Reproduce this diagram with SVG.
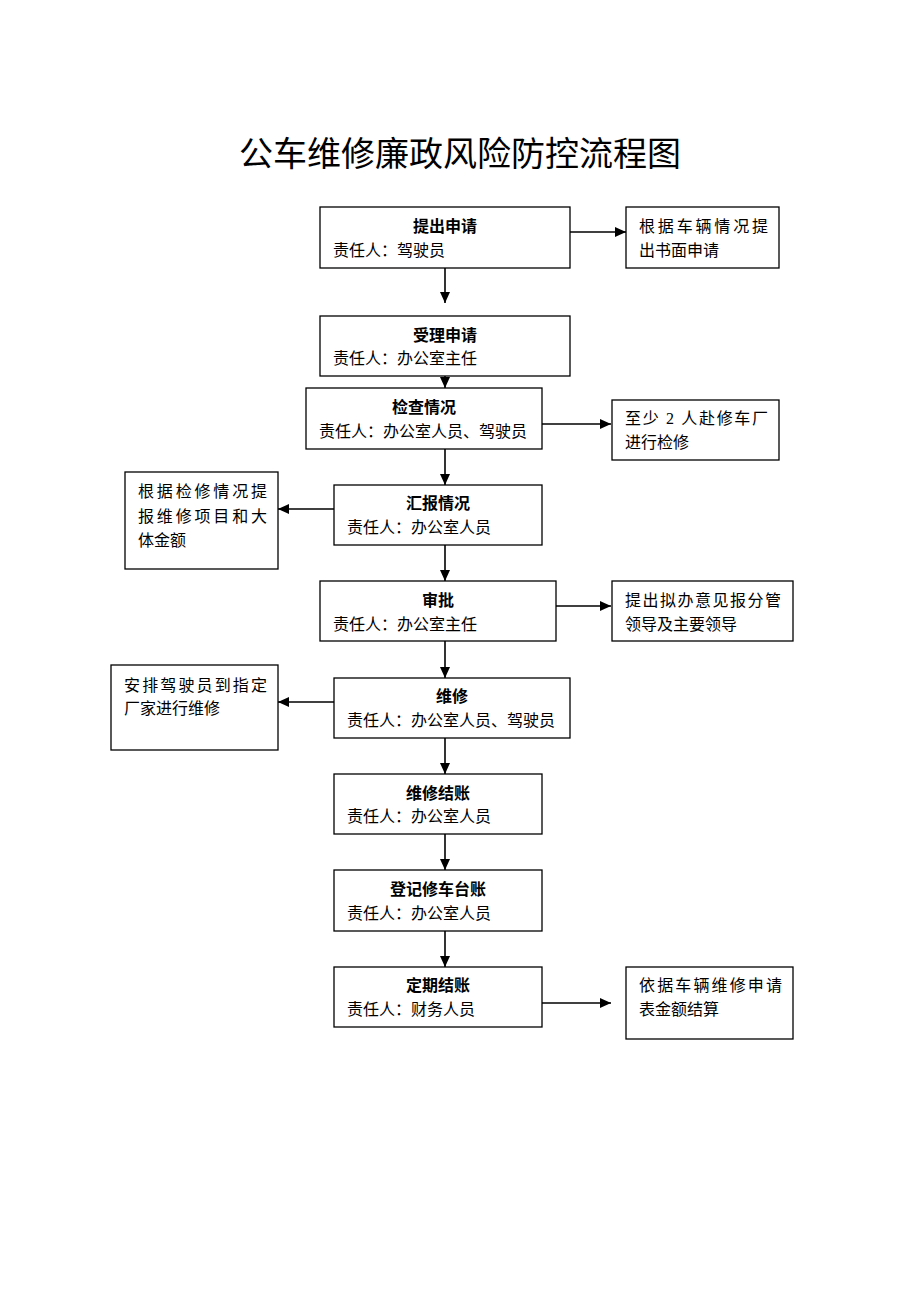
<svg xmlns="http://www.w3.org/2000/svg" width="920" height="1302" viewBox="0 0 920 1302">
<style>
.box{fill:#fff;stroke:#000;stroke-width:1.3}
.t{font-family:"Liberation Serif","Noto Sans CJK SC",serif;font-size:16px;fill:#000}
.b{font-weight:bold;text-anchor:middle}
.title{font-family:"Liberation Serif","Noto Sans CJK SC",serif;font-size:34px;text-anchor:middle;fill:#000}
.c{stroke:#000;stroke-width:1.6;fill:none;marker-end:url(#ah)}
</style>
<defs>
<marker id="ah" markerUnits="userSpaceOnUse" markerWidth="12" markerHeight="10" refX="11" refY="5" orient="auto">
<path d="M0,0 L11,5 L0,10 Z" fill="#000"/>
</marker>
</defs>
<rect width="920" height="1302" fill="#fff"/>
<text class="title" x="460" y="166">公车维修廉政风险防控流程图</text>

<g id="connectors">
<line class="c" x1="445" y1="268" x2="445" y2="303"/>
<line class="c" x1="445" y1="376" x2="445" y2="388"/>
<line class="c" x1="445" y1="449" x2="445" y2="485"/>
<line class="c" x1="445" y1="545" x2="445" y2="581"/>
<line class="c" x1="445" y1="641" x2="445" y2="678"/>
<line class="c" x1="445" y1="738" x2="445" y2="774"/>
<line class="c" x1="445" y1="834" x2="445" y2="870"/>
<line class="c" x1="445" y1="930" x2="445" y2="967"/>
<line class="c" x1="570" y1="232" x2="626" y2="232"/>
<line class="c" x1="542" y1="424" x2="611" y2="424"/>
<line class="c" x1="334" y1="509" x2="278" y2="509"/>
<line class="c" x1="556" y1="606" x2="611" y2="606"/>
<line class="c" x1="334" y1="702" x2="278" y2="702"/>
<line class="c" x1="542" y1="1003" x2="611" y2="1003"/>
</g>

<g id="n1">
<rect class="box" x="320" y="207" width="250" height="61"/>
<text class="t b" x="445" y="232">提出申请</text>
<text class="t" x="333" y="256">责任人：驾驶员</text>
</g>
<g id="r1">
<rect class="box" x="626" y="207" width="153" height="61"/>
<text class="t" x="639" y="232" textLength="129" lengthAdjust="spacing">根据车辆情况提</text>
<text class="t" x="639" y="256">出书面申请</text>
</g>
<g id="n2">
<rect class="box" x="320" y="316" width="250" height="60"/>
<text class="t b" x="445" y="341">受理申请</text>
<text class="t" x="333" y="364">责任人：办公室主任</text>
</g>
<g id="n3">
<rect class="box" x="306" y="388" width="236" height="61"/>
<text class="t b" x="424" y="413">检查情况</text>
<text class="t" x="319" y="437">责任人：办公室人员、驾驶员</text>
</g>
<g id="r2">
<rect class="box" x="612" y="400" width="167" height="60"/>
<text class="t" x="625" y="424" textLength="143" lengthAdjust="spacing">至少 2 人赴修车厂</text>
<text class="t" x="625" y="448">进行检修</text>
</g>
<g id="n4">
<rect class="box" x="334" y="485" width="208" height="60"/>
<text class="t b" x="438" y="509">汇报情况</text>
<text class="t" x="347" y="533">责任人：办公室人员</text>
</g>
<g id="l1">
<rect class="box" x="125" y="472" width="153" height="97"/>
<text class="t" x="138" y="497" textLength="129" lengthAdjust="spacing">根据检修情况提</text>
<text class="t" x="138" y="522" textLength="129" lengthAdjust="spacing">报维修项目和大</text>
<text class="t" x="138" y="546">体金额</text>
</g>
<g id="n5">
<rect class="box" x="320" y="581" width="236" height="60"/>
<text class="t b" x="438" y="606">审批</text>
<text class="t" x="333" y="630">责任人：办公室主任</text>
</g>
<g id="r3">
<rect class="box" x="612" y="581" width="181" height="60"/>
<text class="t" x="625" y="606" textLength="156" lengthAdjust="spacing">提出拟办意见报分管</text>
<text class="t" x="625" y="630">领导及主要领导</text>
</g>
<g id="n6">
<rect class="box" x="334" y="678" width="236" height="60"/>
<text class="t b" x="452" y="702">维修</text>
<text class="t" x="347" y="726">责任人：办公室人员、驾驶员</text>
</g>
<g id="l2">
<rect class="box" x="111" y="665" width="167" height="85"/>
<text class="t" x="124" y="691" textLength="143" lengthAdjust="spacing">安排驾驶员到指定</text>
<text class="t" x="124" y="714">厂家进行维修</text>
</g>
<g id="n7">
<rect class="box" x="334" y="774" width="208" height="60"/>
<text class="t b" x="438" y="799">维修结账</text>
<text class="t" x="347" y="822">责任人：办公室人员</text>
</g>
<g id="n8">
<rect class="box" x="334" y="870" width="208" height="61"/>
<text class="t b" x="438" y="895">登记修车台账</text>
<text class="t" x="347" y="919">责任人：办公室人员</text>
</g>
<g id="n9">
<rect class="box" x="334" y="967" width="208" height="60"/>
<text class="t b" x="438" y="991">定期结账</text>
<text class="t" x="347" y="1015">责任人：财务人员</text>
</g>
<g id="r4">
<rect class="box" x="626" y="967" width="167" height="72"/>
<text class="t" x="639" y="991" textLength="143" lengthAdjust="spacing">依据车辆维修申请</text>
<text class="t" x="639" y="1015">表金额结算</text>
</g>
</svg>
